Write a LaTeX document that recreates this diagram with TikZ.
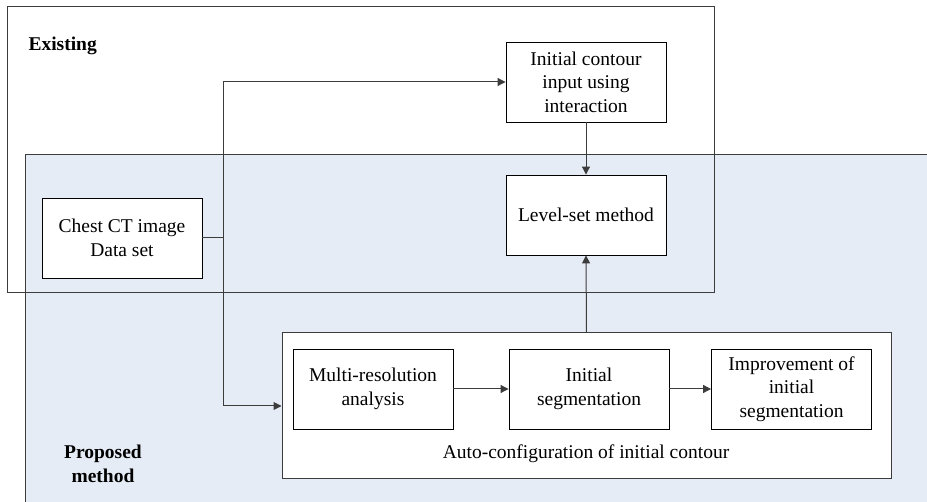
\documentclass[tikz,border=0pt]{standalone}
\usepackage{fontspec}
\setmainfont{Liberation Serif}
\usepackage{xcolor}
\usetikzlibrary{positioning,arrows.meta}
\definecolor{propfill}{RGB}{230,236,246}
\definecolor{linegray}{RGB}{60,60,60}

\begin{document}
\begin{tikzpicture}[x=1pt,y=-1pt,
	box/.style={draw=black, fill=white, line width=0.9pt, minimum width=160pt, minimum height=80pt, align=center, inner sep=0pt, font=\fontsize{19.5}{23.5}\selectfont},
	link/.style={draw=linegray, line width=1pt},
	arr/.style={link, -{Triangle[length=8pt,width=8pt]}}]
	\useasboundingbox (0,0) rectangle (927,502);
	\fill[propfill] (25,155) rectangle (927,502);
	\draw[link] (927,155) -- (25,155) -- (25,502);
	\draw[link] (7,7) rectangle (714,293);
	\node[anchor=west, font=\fontsize{19.5}{23.5}\selectfont\bfseries] (existing) at (25,46) {Existing};
	\node[align=center, font=\fontsize{19.5}{23.5}\selectfont\bfseries] (proposed) at (103,464) {Proposed\\method};
	\node[box] (chest) at (122,238) {Chest CT image\\Data set};
	\node[box] (contour) at (586,82) {Initial contour\\input using\\interaction};
	\node[box] (level) at (586,215) {Level-set method};
	\node[draw=linegray, fill=white, line width=1pt, minimum width=609pt, minimum height=146pt] (auto) at (586.5,406) {};
	\node[box] (multi) at (373,389) {Multi-resolution\\analysis};
	\node[box] (seg) at (589,389) {Initial\\segmentation};
	\node[box] (improve) at (791.5,389) {Improvement of\\initial\\segmentation};
	\node[font=\fontsize{19.5}{23.5}\selectfont] (autolabel) at (586,454) {Auto-configuration of initial contour};
	\coordinate (split) at (223,238);
	\draw[link] (chest.east) -- (split);
	\draw[arr] (split) |- (contour.west);
	\draw[arr] (split) |- (auto.west);
	\draw[arr] (contour) -- (level);
	\draw[arr] (auto.north) -- (level.south);
	\draw[arr] (multi) -- (seg);
	\draw[arr] (seg) -- (improve);
\end{tikzpicture}
\end{document}
